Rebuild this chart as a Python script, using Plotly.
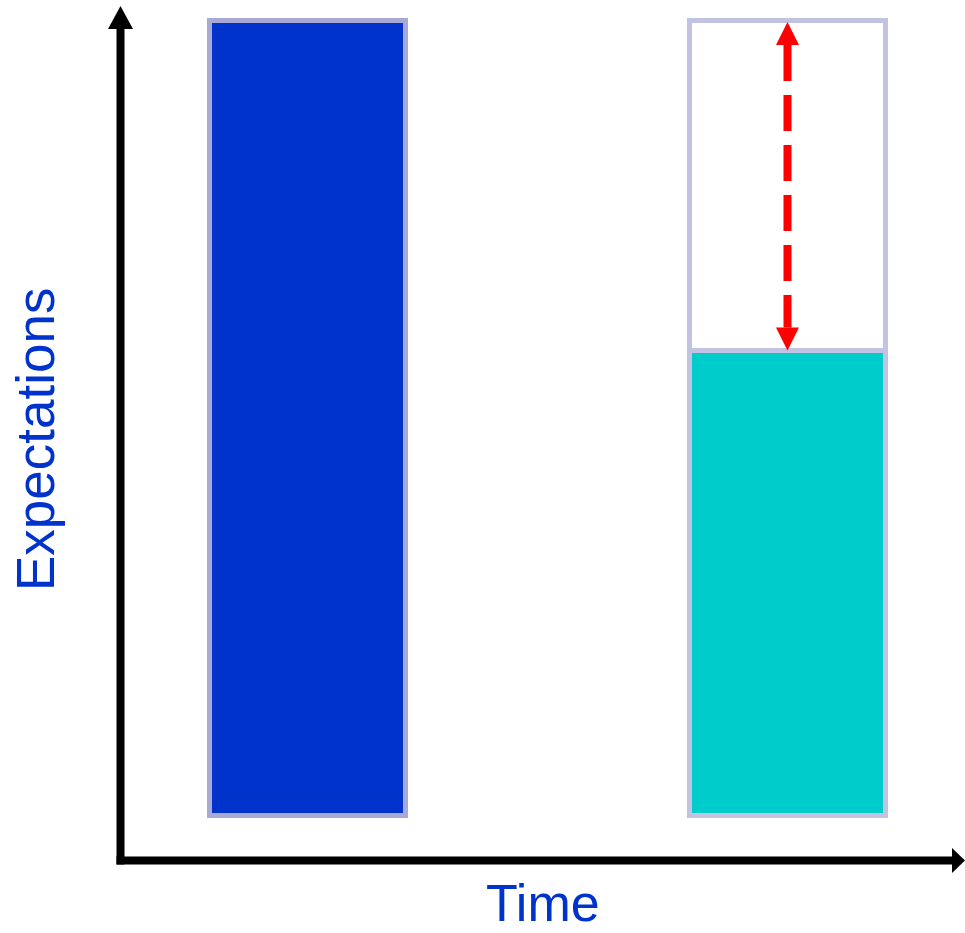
import plotly.graph_objects as go

# Data: expected level vs. what actually happened, at two points in time
periods = [0, 1]
expected = [100, 100]
actual = [100, 58.5]

W, H = 965, 933

# Linear scales (pixels per unit) used to size decorations in data units
X0_PX, X_PX_PER_UNIT = 307.5, 480.0
Y0_PX, Y_PX_PER_UNIT = 815.5, 7.95
x_range = [(0 - X0_PX) / X_PX_PER_UNIT, (W - X0_PX) / X_PX_PER_UNIT]
y_range = [(Y0_PX - H) / Y_PX_PER_UNIT, Y0_PX / Y_PX_PER_UNIT]


def px(x):
    return x / W


def py(y):
    return 1 - y / H


BLUE = "#0033cc"
TEAL = "#00cccc"
RED = "#ff0000"
BAR_WIDTH = 196 / X_PX_PER_UNIT

fig = go.Figure()

# Expected-level outlines (second one stays empty above the actual value)
fig.add_trace(go.Bar(
    x=periods, y=expected, width=BAR_WIDTH,
    marker=dict(color=[BLUE, "white"],
                line=dict(color=["#a9a9d6", "#c2c2e2"], width=5)),
    hoverinfo="skip", showlegend=False,
))
# Actual level in the later period
fig.add_trace(go.Bar(
    x=periods[1:], y=actual[1:], width=BAR_WIDTH,
    marker=dict(color=TEAL, line=dict(color="#c2c2e2", width=5)),
    hoverinfo="skip", showlegend=False,
))

shapes = []

# Axes drawn as thick black arrows
AX_X, AX_Y = 120.5, 860.5
shapes.append(dict(type="line", xref="paper", yref="paper",
                   x0=px(AX_X), y0=py(AX_Y + 4), x1=px(AX_X), y1=py(28),
                   line=dict(color="black", width=8)))
shapes.append(dict(type="path", xref="paper", yref="paper",
                   path=f"M {px(AX_X-12.5)},{py(29)} L {px(AX_X+12.5)},{py(29)} L {px(AX_X)},{py(6)} Z",
                   fillcolor="black", line=dict(width=0)))
shapes.append(dict(type="line", xref="paper", yref="paper",
                   x0=px(AX_X - 4), y0=py(AX_Y), x1=px(953), y1=py(AX_Y),
                   line=dict(color="black", width=8)))
shapes.append(dict(type="path", xref="paper", yref="paper",
                   path=f"M {px(952)},{py(AX_Y-12.5)} L {px(952)},{py(AX_Y+12.5)} L {px(965)},{py(AX_Y)} Z",
                   fillcolor="black", line=dict(width=0)))

# Red dashed double arrow spanning the gap between expected and actual
gx = periods[1]
top, bottom = expected[1], actual[1]
head_len = 23 / Y_PX_PER_UNIT
head_half = 11.5 / X_PX_PER_UNIT
tip_top = top - 1.5 / Y_PX_PER_UNIT
tip_bot = bottom
shapes.append(dict(type="line", xref="x", yref="y",
                   x0=gx, x1=gx, y0=tip_top - head_len, y1=tip_bot + head_len,
                   line=dict(color=RED, width=8, dash="36px,14px")))
shapes.append(dict(type="path", xref="x", yref="y",
                   path=f"M {gx-head_half},{tip_top-head_len} L {gx+head_half},{tip_top-head_len} L {gx},{tip_top} Z",
                   fillcolor=RED, line=dict(width=0)))
shapes.append(dict(type="path", xref="x", yref="y",
                   path=f"M {gx-head_half},{tip_bot+head_len} L {gx+head_half},{tip_bot+head_len} L {gx},{tip_bot} Z",
                   fillcolor=RED, line=dict(width=0)))

annotations = [
    dict(text="Expectations", xref="paper", yref="paper",
         x=px(35), y=py(440), xanchor="center", yanchor="middle",
         textangle=-90, showarrow=False,
         font=dict(family="Liberation Sans, Arial, sans-serif", size=53, color=BLUE)),
    dict(text="Time", xref="paper", yref="paper",
         x=px(543), y=0, xanchor="center", yanchor="bottom",
         showarrow=False, borderpad=0,
         font=dict(family="Liberation Sans, Arial, sans-serif", size=52, color=BLUE)),
]

fig.update_layout(
    width=W, height=H,
    margin=dict(l=0, r=0, t=0, b=0),
    paper_bgcolor="white", plot_bgcolor="white",
    barmode="overlay",
    xaxis=dict(range=x_range, visible=False, fixedrange=True),
    yaxis=dict(range=y_range, visible=False, fixedrange=True),
    shapes=shapes,
    annotations=annotations,
)

fig.write_html("out.html")
